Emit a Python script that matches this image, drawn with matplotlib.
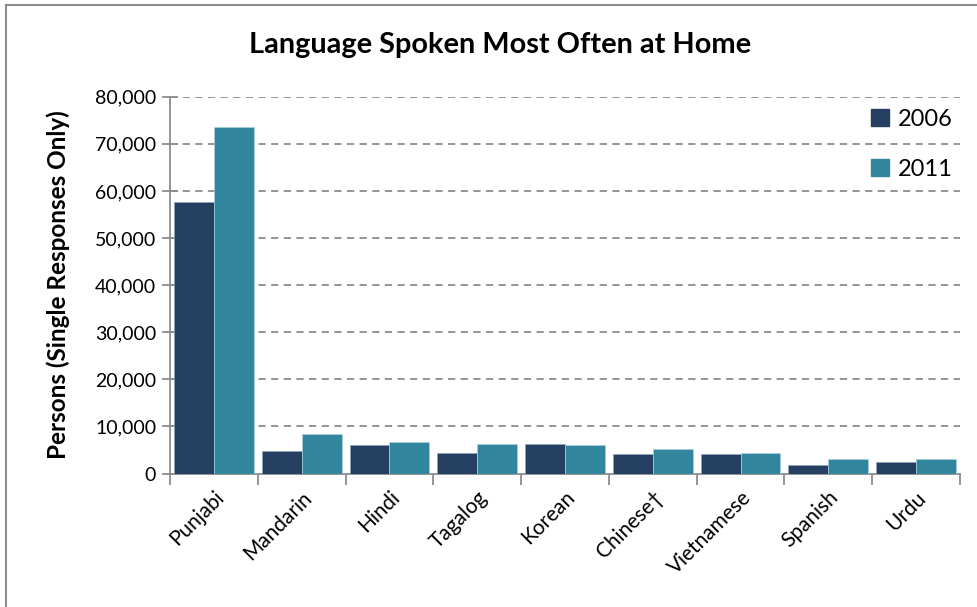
import numpy as np
import matplotlib
matplotlib.use('Agg')
import matplotlib.pyplot as plt
from matplotlib.lines import Line2D
from matplotlib.ticker import FuncFormatter

plt.rcParams['font.family'] = ['Lato', 'DejaVu Sans']

# data
languages = ['Punjabi', 'Mandarin', 'Hindi', 'Tagalog', 'Korean',
             'Chinese\u2020', 'Vietnamese', 'Spanish', 'Urdu']
persons_2006 = [57700, 4700, 6150, 4300, 6200, 4100, 4100, 1900, 2550]
persons_2011 = [73500, 8400, 6650, 6250, 6150, 5150, 4300, 3100, 3050]
years = ['2006', '2011']
colors = ['#243F60', '#31859C']

fig = plt.figure(figsize=(9.77, 6.07), dpi=100)
ax = fig.add_axes([0.174, 0.2199, 0.8086, 0.6208])

x = np.arange(len(languages))
w = 0.455
ax.bar(x - w / 2, persons_2006, w, color=colors[0], label=years[0],
       edgecolor='#8FA3B8', linewidth=0.5, zorder=3)
ax.bar(x + w / 2, persons_2011, w, color=colors[1], label=years[1],
       edgecolor='#A8D3DF', linewidth=0.5, zorder=3)

ax.set_xlim(-0.5, len(languages) - 0.5)
ax.set_ylim(0, 80000)
ax.set_yticks(np.arange(0, 80001, 10000))
ax.yaxis.set_major_formatter(FuncFormatter(lambda v, p: f'{int(v):,}'))

# gridlines
grid_color = '#8C8C8C'
for v in range(10000, 80001, 10000):
    ax.axhline(v, color=grid_color, linestyle=(0, (4, 3)), linewidth=1.3, zorder=1)

for s in ['top', 'right']:
    ax.spines[s].set_visible(False)
for s in ['left', 'bottom']:
    ax.spines[s].set_color(grid_color)
    ax.spines[s].set_linewidth(1.3)

ax.tick_params(axis='y', direction='inout', length=12, width=1.3,
               color=grid_color, labelsize=14, pad=4)
ax.set_xticks(np.arange(len(languages) + 1) - 0.5, minor=True)
ax.set_xticks(x)
ax.set_xticklabels(languages, rotation=45, ha='right', rotation_mode='anchor',
                   fontsize=15)
ax.tick_params(axis='x', which='major', length=0, pad=10)
ax.tick_params(axis='x', which='minor', direction='out', length=8, width=1.3,
               color=grid_color)

ax.set_ylabel('Persons (Single Responses Only)', fontsize=17.5, fontweight='bold',
              labelpad=18)
fig.suptitle('Language Spoken Most Often at Home', fontsize=20.8,
             fontweight='bold', x=0.512, y=0.948)

handles = [plt.Rectangle((0, 0), 1, 1, color=c) for c in colors]
ax.legend(handles, years, loc='upper right', frameon=False, fontsize=17,
          handlelength=0.75, handleheight=0.75, handletextpad=0.4,
          labelspacing=1.25, bbox_to_anchor=(1.018, 1.025))

# chart border (top and left)
fig.add_artist(Line2D([0.006, 1.0], [0.992, 0.992], color='#8C8C8C',
                      linewidth=1.5, transform=fig.transFigure))
fig.add_artist(Line2D([0.006, 0.006], [0.0, 0.992], color='#8C8C8C',
                      linewidth=1.5, transform=fig.transFigure))

fig.savefig('out.png', dpi=100)
